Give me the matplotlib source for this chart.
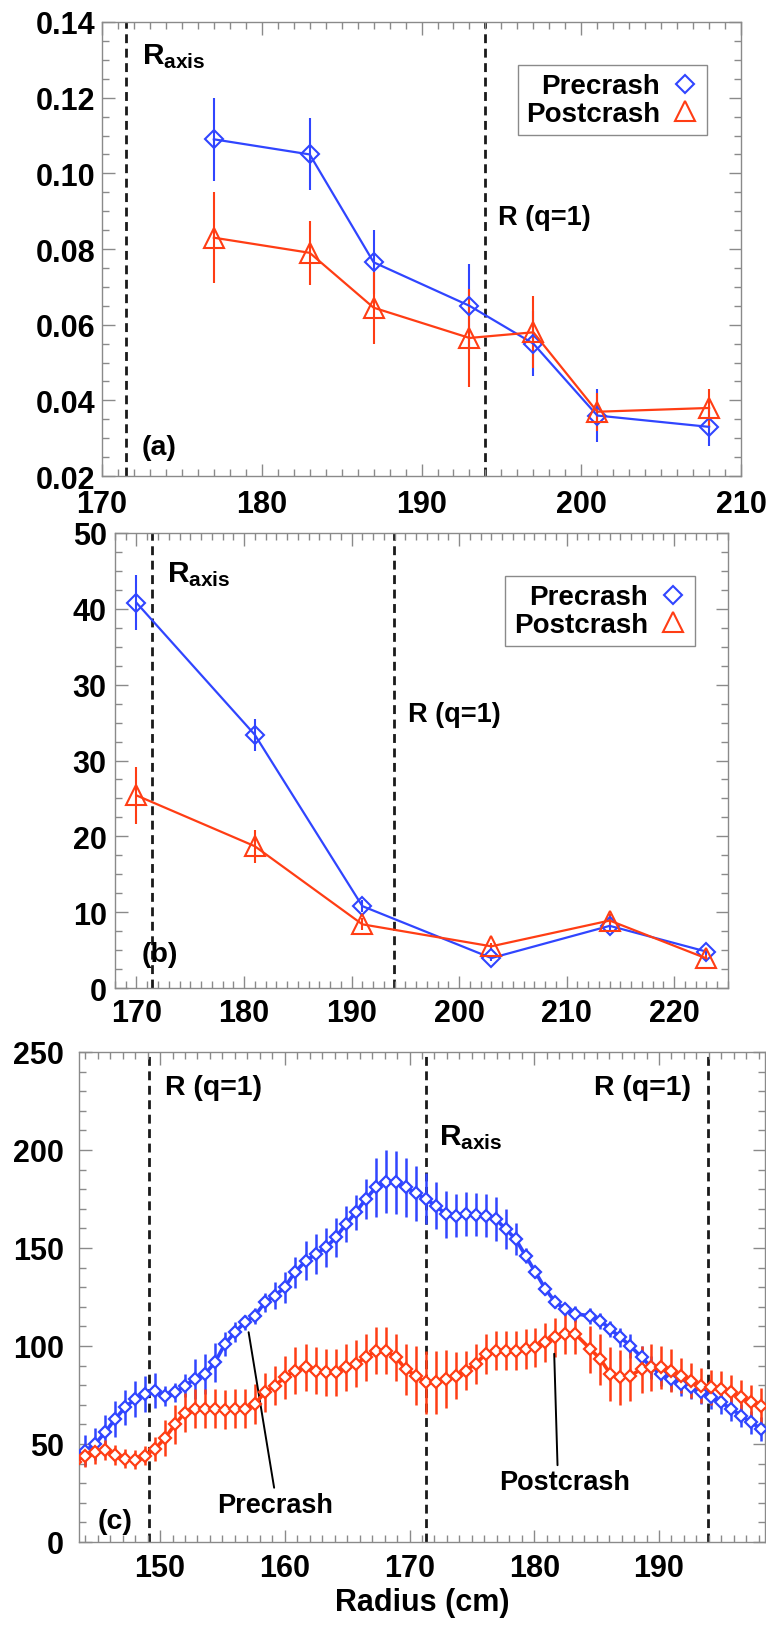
import matplotlib
matplotlib.use("Agg")
import matplotlib.pyplot as plt
from matplotlib.lines import Line2D
from matplotlib.ticker import MultipleLocator, FixedLocator, FixedFormatter

plt.rcParams["font.family"] = ["Liberation Sans", "DejaVu Sans"]
plt.rcParams["font.weight"] = "bold"
plt.rcParams["mathtext.fontset"] = "custom"
plt.rcParams["mathtext.rm"] = "Liberation Sans:bold"
plt.rcParams["mathtext.it"] = "Liberation Sans:bold"
plt.rcParams["mathtext.bf"] = "Liberation Sans:bold"

# ---- panel (a) ----
x_a = [177, 183, 187, 193, 197, 201, 208]
pre_a = [0.109, 0.105, 0.0765, 0.065, 0.055, 0.036, 0.033]
pre_a_err = [0.011, 0.0095, 0.0085, 0.011, 0.0085, 0.007, 0.005]
post_a = [0.083, 0.079, 0.0645, 0.0565, 0.058, 0.037, 0.038]
post_a_err = [0.012, 0.0085, 0.0095, 0.013, 0.0095, 0.005, 0.005]

# ---- panel (b) (axis units; the y labels repeat "30" as in the original) ----
x_b = [170, 181, 191, 203, 214, 223]
pre_b = [50.8, 33.4, 10.8, 3.95, 8.2, 4.8]
pre_b_err = [3.6, 2.1, 0.8, 0.4, 0.6, 0.4]
post_b = [25.4, 18.7, 8.4, 5.5, 8.9, 3.9]
post_b_err = [3.8, 2.2, 0.8, 0.4, 0.8, 0.4]
ytick_pos_b = [0, 10, 20, 30, 40, 50, 60]
ytick_lab_b = ["0", "10", "20", "30", "30", "40", "50"]

# ---- panel (c) ----
x_c = [143.2, 144.0, 144.8, 145.6, 146.4, 147.2, 148.0, 148.8, 149.6, 150.4,
       151.2, 152.0, 152.8, 153.6, 154.4, 155.2, 156.0, 156.8, 157.6, 158.4,
       159.2, 160.0, 160.8, 161.7, 162.5, 163.3, 164.1, 164.9, 165.7, 166.5,
       167.3, 168.1, 168.9, 169.7, 170.5, 171.3, 172.1, 172.9, 173.7, 174.5,
       175.3, 176.1, 176.9, 177.7, 178.5, 179.3, 180.1, 180.9, 181.7, 182.5,
       183.3, 184.5, 185.3, 186.1, 186.9, 187.7, 188.6, 189.4, 190.2, 191.0,
       191.8, 192.6, 193.4, 194.2, 195.0, 195.8, 196.6, 197.4, 198.2]
pre_c = [43, 46.6, 50, 56, 62.7, 68.7, 72.9, 75.5, 77.2, 74.6,
         76.3, 79.7, 83.1, 85.7, 91.6, 101, 107, 112, 115.4, 122.2,
         125.6, 129.9, 137.6, 143.5, 146.9, 150.3, 155.4, 162.2, 168.2, 175,
         180.9, 183.8, 183.5, 180.9, 178, 175, 171.6, 167.3, 166.5, 167.3,
         167, 166.5, 164.8, 159.7, 154.6, 146.1, 137.6, 129, 122.2, 118.8,
         116.3, 115.4, 112.9, 108.6, 104.4, 100.1, 94.2, 89.1, 85.7, 83.1,
         80.6, 78.9, 76.3, 73.8, 71.2, 67.8, 64.4, 61, 57.6]
pre_c_err = [7, 8, 8, 9, 9, 9, 9, 9, 9, 5,
             5, 6, 10, 10, 10, 6, 5, 4, 4, 5,
             7, 8, 8, 10, 10, 10, 10, 9, 9, 10,
             15, 16, 16, 15, 14, 13, 12, 12, 11, 11,
             11, 11, 11, 10, 8, 4, 3, 3, 3, 3,
             4, 4, 4, 4, 5, 6, 6, 6, 6, 6,
             6, 6, 6, 6, 6, 6, 6, 6, 6]
post_c = [41, 44, 46, 47, 44.5, 42.5, 42, 44, 47.5, 53,
          60, 66, 68, 68, 68, 67.5, 68, 68, 70.4, 76.3,
          79.7, 84, 87.4, 89.1, 87.4, 86.5, 86.5, 89.1, 90.8, 94.2,
          97.6, 97.6, 94.2, 88.2, 84.8, 81.4, 81.4, 83.1, 84.8, 87.4,
          90.8, 95.9, 97.6, 97.6, 97.6, 98.4, 99.3, 101.8, 104.4, 106.1,
          106.1, 98.4, 93.3, 85.7, 84, 84.8, 88.2, 89.1, 89.1, 87.4,
          84.8, 82.3, 79.7, 78.9, 78, 76.3, 73.8, 71.2, 69.5]
post_c_err = [6, 6, 6, 5, 5, 5, 5, 5, 6, 9,
              10, 10, 10, 10, 10, 10, 10, 10, 10, 10,
              10, 11, 12, 12, 12, 12, 12, 12, 12, 12,
              12, 12, 12, 13, 15, 16, 16, 15, 12, 10,
              10, 10, 10, 10, 10, 10, 10, 10, 10, 10,
              10, 12, 13, 14, 14, 13, 12, 12, 11, 11,
              9, 9, 9, 9, 9, 9, 9, 9, 9]

BLUE = "#3045ff"
RED = "#ff3d14"
SPINE = "#8a8a8a"
FS = 19.5      # annotation / legend text
TFS = 22       # tick labels

fig = plt.figure(figsize=(7.66, 16.31), dpi=100)
ax_a = fig.add_axes([0.1332, 0.7075, 0.8342, 0.2784])
ax_b = fig.add_axes([0.1501, 0.3936, 0.8003, 0.2790])
ax_c = fig.add_axes([0.1031, 0.0540, 0.8956, 0.3004])


def style(ax, xpad, ypad):
    for s in ax.spines.values():
        s.set_color(SPINE)
        s.set_linewidth(1.0)
    ax.tick_params(which="both", direction="in", top=True, right=True,
                   color=SPINE, width=1.0, labelsize=TFS)
    ax.tick_params(which="major", length=9)
    ax.tick_params(which="minor", length=5)
    ax.tick_params(axis="x", which="major", pad=xpad)
    ax.tick_params(axis="y", which="major", pad=ypad)


def vdash(ax, x):
    ax.axvline(x, color="#1a1a1a", lw=2.0, ls=(0, (3.2, 2.0)), zorder=1)


def legend(ax, anchor):
    handles = [
        Line2D([], [], ls="none", marker="D", ms=9.5, mfc="none", mec=BLUE, mew=1.5),
        Line2D([], [], ls="none", marker="^", ms=14, mfc="none", mec=RED, mew=1.5),
    ]
    leg = ax.legend(handles, ["Precrash", "Postcrash"], loc="upper right",
                    bbox_to_anchor=anchor, markerfirst=False, fancybox=False,
                    edgecolor=SPINE, fontsize=FS + 0.5, handlelength=1.0,
                    handletextpad=0.4, borderpad=0.3, labelspacing=0.05,
                    framealpha=1)
    leg.get_frame().set_linewidth(1.0)


def series(ax, x, y, err, color, marker, ms):
    ax.errorbar(x, y, yerr=err, color=color, marker=marker, ms=ms,
                mfc="none", mec=color, mew=1.5, lw=1.6, elinewidth=1.5,
                capsize=0, zorder=3)


# (a)
series(ax_a, x_a, pre_a, pre_a_err, BLUE, "D", 9.5)
series(ax_a, x_a, post_a, post_a_err, RED, "^", 14)
vdash(ax_a, 171.5)
vdash(ax_a, 194)
ax_a.set_xlim(170, 210)
ax_a.set_ylim(0.02, 0.14)
ax_a.xaxis.set_major_locator(MultipleLocator(10))
ax_a.xaxis.set_minor_locator(MultipleLocator(1))
ax_a.yaxis.set_major_locator(MultipleLocator(0.02))
ax_a.yaxis.set_minor_locator(MultipleLocator(0.005))
ax_a.yaxis.set_major_formatter(matplotlib.ticker.FormatStrFormatter("%.2f"))
style(ax_a, 9, 5)
ax_a.text(172.5, 0.131, r"$R_{axis}$", fontsize=FS + 2, ha="left", va="center")
ax_a.text(172.5, 0.0278, "(a)", fontsize=FS + 1, ha="left", va="center")
ax_a.text(194.8, 0.0885, "R (q=1)", fontsize=FS, ha="left", va="center")
legend(ax_a, (0.969, 0.936))

# (b)
series(ax_b, x_b, pre_b, pre_b_err, BLUE, "D", 9.5)
series(ax_b, x_b, post_b, post_b_err, RED, "^", 14)
vdash(ax_b, 171.4)
vdash(ax_b, 193.9)
ax_b.set_xlim(168, 225)
ax_b.set_ylim(0, 60)
ax_b.xaxis.set_major_locator(MultipleLocator(10))
ax_b.xaxis.set_minor_locator(MultipleLocator(1))
ax_b.yaxis.set_major_locator(FixedLocator(ytick_pos_b))
ax_b.yaxis.set_major_formatter(FixedFormatter(ytick_lab_b))
ax_b.yaxis.set_minor_locator(MultipleLocator(2.5))
style(ax_b, 7, 6)
ax_b.text(172.8, 54.7, r"$R_{axis}$", fontsize=FS + 2, ha="left", va="center")
ax_b.text(170.5, 4.5, "(b)", fontsize=FS + 1, ha="left", va="center")
ax_b.text(195.2, 36.1, "R (q=1)", fontsize=FS, ha="left", va="center")
legend(ax_b, (0.969, 0.936))

# (c)
for x, y, err, color in [(x_c, pre_c, pre_c_err, BLUE), (x_c, post_c, post_c_err, RED)]:
    ax_c.errorbar(x, y, yerr=err, color=color, marker="D", ms=6.5,
                  mfc="white", mec=color, mew=1.6, lw=2.6, elinewidth=1.8,
                  capsize=0, zorder=3)
vdash(ax_c, 149.1)
vdash(ax_c, 171.3)
vdash(ax_c, 193.9)
ax_c.set_xlim(143.5, 198.5)
ax_c.set_ylim(0, 250)
ax_c.xaxis.set_major_locator(MultipleLocator(10))
ax_c.xaxis.set_minor_locator(MultipleLocator(1))
ax_c.yaxis.set_major_locator(MultipleLocator(50))
ax_c.yaxis.set_minor_locator(MultipleLocator(10))
style(ax_c, 8, 11)
ax_c.set_xlabel("Radius (cm)", fontsize=22, fontweight="bold", labelpad=3)
ax_c.text(150.4, 232, "R (q=1)", fontsize=FS + 1, ha="left", va="center")
ax_c.text(184.8, 232, "R (q=1)", fontsize=FS + 1, ha="left", va="center")
ax_c.text(172.35, 206.6, r"$R_{axis}$", fontsize=FS + 2, ha="left", va="center")
ax_c.text(145.0, 10.9, "(c)", fontsize=FS + 1, ha="left", va="center")
ax_c.annotate("Precrash", xy=(157.1, 107), xytext=(159.2, 18.9), fontsize=FS,
              ha="center", va="center",
              arrowprops=dict(arrowstyle="-", color="k", lw=1.4,
                              relpos=(0.5, 1.0), shrinkA=1, shrinkB=0))
ax_c.annotate("Postcrash", xy=(181.6, 96), xytext=(182.4, 30.4), fontsize=FS,
              ha="center", va="center",
              arrowprops=dict(arrowstyle="-", color="k", lw=1.4,
                              relpos=(0.45, 1.0), shrinkA=1, shrinkB=0))

fig.savefig("out.png", dpi=100)
